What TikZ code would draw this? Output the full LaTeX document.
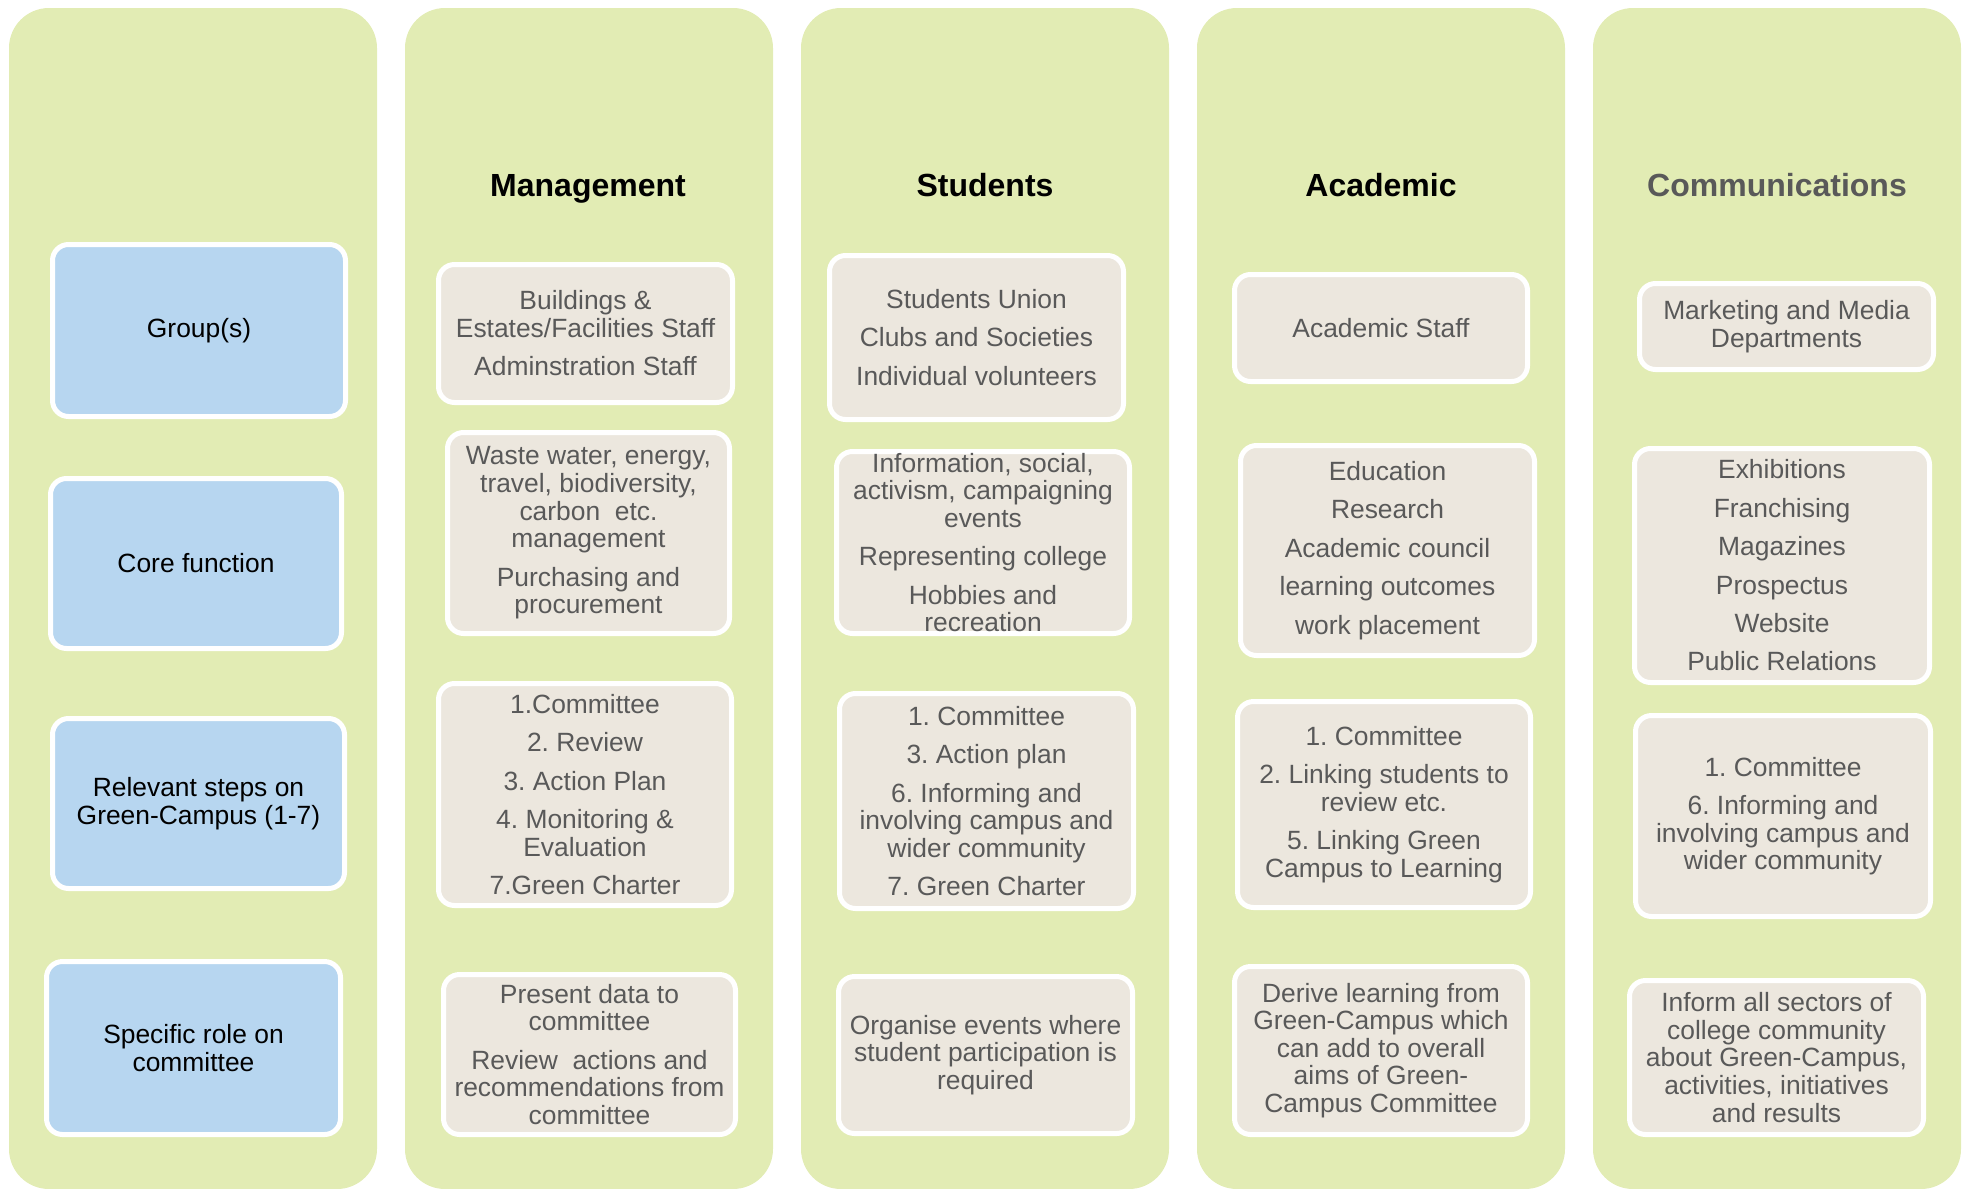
\documentclass[tikz,border=0pt]{standalone}
\usepackage{fontspec}
\setmainfont{Liberation Sans}
\frenchspacing
\definecolor{colgreen}{HTML}{E2ECB4}
\definecolor{rowblue}{HTML}{B7D6F0}
\definecolor{cellbeige}{HTML}{ECE7DE}
\definecolor{txtgray}{HTML}{595959}
\begin{document}
\begin{tikzpicture}[x=1pt,y=-1pt,
  colbox/.style={fill=colgreen, rounded corners=40pt, minimum width=368pt, minimum height=1181pt, inner sep=0pt},
  cellbox/.style={draw=white, line width=5pt, fill=cellbeige, rounded corners=16pt, inner sep=0pt},
  rowbox/.style={draw=white, line width=5pt, fill=rowblue, rounded corners=16pt, inner sep=0pt},
  celltxt/.style={align=center, text=txtgray, font=\fontsize{26.4}{27.6}\selectfont\frenchspacing, inner sep=0pt},
  rowtxt/.style={align=center, text=black, font=\fontsize{26.4}{27.6}\selectfont\frenchspacing, inner sep=0pt},
  headtxt/.style={anchor=base, font=\fontsize{32}{36}\selectfont\bfseries, inner sep=0pt}
]
\useasboundingbox (0,0) rectangle (1963,1189);

% columns
\node[colbox] (col1) at (193,598.5) {};
\node[colbox] (col2) at (589,598.5) {};
\node[colbox] (col3) at (985,598.5) {};
\node[colbox] (col4) at (1381,598.5) {};
\node[colbox] (col5) at (1777,598.5) {};

% headers
\node[headtxt, text=black] (h2) at (588,196) {Management};
\node[headtxt, text=black] (h3) at (985,196) {Students};
\node[headtxt, text=black] (h4) at (1381,196) {Academic};
\node[headtxt, text=txtgray] (h5) at (1777,196) {Communications};

% row labels
\node[rowbox, minimum width=293pt, minimum height=172pt] (b1) at (199,330.5) {};
\node[rowtxt] (b1t) at (b1.center) {Group(s)};
\node[rowbox, minimum width=291pt, minimum height=170pt] (b2) at (196,563.5) {};
\node[rowtxt] (b2t) at (b2.center) {Core function};
\node[rowbox, minimum width=292pt, minimum height=170pt] (b3) at (198.5,803.5) {};
\node[rowtxt] (b3t) at (b3.center) {Relevant steps on\\Green-Campus (1-7)};
\node[rowbox, minimum width=294pt, minimum height=173pt] (b4) at (193.5,1048) {};
\node[rowtxt] (b4t) at (b4.center) {Specific role on\\committee};

% Management
\node[cellbox, minimum width=294pt, minimum height=138pt] (m1) at (585.5,333.5) {};
\node[celltxt] (m1t) at (m1.center) {Buildings \&\\Estates/Facilities Staff\\[10.8pt]Adminstration Staff};
\node[cellbox, minimum width=282pt, minimum height=201pt] (m2) at (588.5,533) {};
\node[celltxt] (m2t) at (m2.center) {Waste water, energy,\\travel, biodiversity,\\carbon\ \ etc.\\management\\[10.8pt]Purchasing and\\procurement};
\node[cellbox, minimum width=293pt, minimum height=222pt] (m3) at (585,794.5) {};
\node[celltxt] (m3t) at (m3.center) {1.Committee\\[10.8pt]2. Review\\[10.8pt]3. Action Plan\\[10.8pt]4. Monitoring \&\\Evaluation\\[10.8pt]7.Green Charter};
\node[cellbox, minimum width=292pt, minimum height=160pt] (m4) at (589.5,1054.5) {};
\node[celltxt] (m4t) at (m4.center) {Present data to\\committee\\[10.8pt]Review\ \ actions and\\recommendations from\\committee};

% Students
\node[cellbox, minimum width=294pt, minimum height=164pt] (s1) at (976.5,337.5) {};
\node[celltxt] (s1t) at (s1.center) {Students Union\\[10.8pt]Clubs and Societies\\[10.8pt]Individual volunteers};
\node[cellbox, minimum width=293pt, minimum height=182pt] (s2) at (983,542.5) {};
\node[celltxt] (s2t) at (s2.center) {Information, social,\\activism, campaigning\\events\\[10.8pt]Representing college\\[10.8pt]Hobbies and\\recreation};
\node[cellbox, minimum width=294pt, minimum height=215pt] (s3) at (986.5,801) {};
\node[celltxt] (s3t) at (s3.center) {1. Committee\\[10.8pt]3. Action plan\\[10.8pt]6. Informing and\\involving campus and\\wider community\\[10.8pt]7. Green Charter};
\node[cellbox, minimum width=294pt, minimum height=157pt] (s4) at (985.5,1055) {};
\node[celltxt] (s4t) at (s4.center) {Organise events where\\student participation is\\required};

% Academic
\node[cellbox, minimum width=293pt, minimum height=107pt] (a1) at (1381,328) {};
\node[celltxt] (a1t) at (a1.center) {Academic Staff};
\node[cellbox, minimum width=294pt, minimum height=210pt] (a2) at (1387.5,550.5) {};
\node[celltxt] (a2t) at (a2.center) {Education\\[10.8pt]Research\\[10.8pt]Academic council\\[10.8pt]learning outcomes\\[10.8pt]work placement};
\node[cellbox, minimum width=293pt, minimum height=206pt] (a3) at (1384,804.5) {};
\node[celltxt] (a3t) at (a3.center) {1. Committee\\[10.8pt]2. Linking students to\\review etc.\\[10.8pt]5. Linking Green\\Campus to Learning};
\node[cellbox, minimum width=293pt, minimum height=168pt] (a4) at (1381,1050.5) {};
\node[celltxt] (a4t) at (a4.center) {Derive learning from\\Green-Campus which\\can add to overall\\aims of Green-\\Campus Committee};

% Communications
\node[cellbox, minimum width=294pt, minimum height=86pt] (c1) at (1786.5,326.5) {};
\node[celltxt] (c1t) at (c1.center) {Marketing and Media\\Departments};
\node[cellbox, minimum width=295pt, minimum height=234pt] (c2) at (1782,565.5) {};
\node[celltxt] (c2t) at (c2.center) {Exhibitions\\[10.8pt]Franchising\\[10.8pt]Magazines\\[10.8pt]Prospectus\\[10.8pt]Website\\[10.8pt]Public Relations};
\node[cellbox, minimum width=295pt, minimum height=201pt] (c3) at (1783,816) {};
\node[celltxt] (c3t) at (c3.center) {1. Committee\\[10.8pt]6. Informing and\\involving campus and\\wider community};
\node[cellbox, minimum width=294pt, minimum height=154pt] (c4) at (1776.5,1057.5) {};
\node[celltxt] (c4t) at (c4.center) {Inform all sectors of\\college community\\about Green-Campus,\\activities, initiatives\\and results};
\end{tikzpicture}
\end{document}
